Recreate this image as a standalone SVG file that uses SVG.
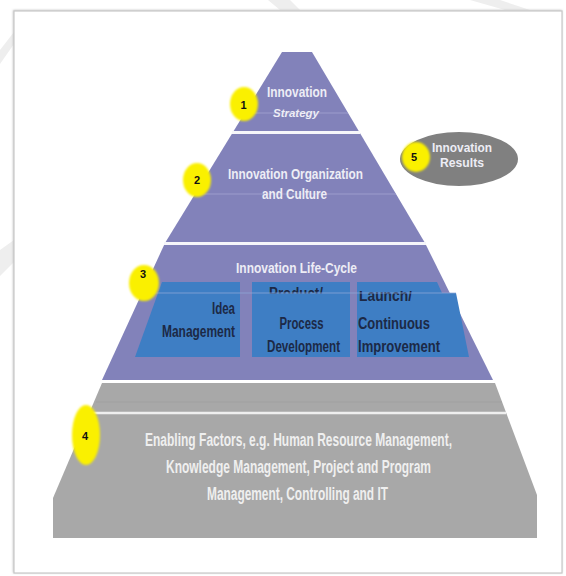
<svg xmlns="http://www.w3.org/2000/svg" width="566" height="576" viewBox="0 0 566 576">
<defs>
<style>
.lbl{font-family:"Liberation Sans",Arial,sans-serif;font-weight:bold;fill:#EDEDF5;text-anchor:middle}
.gl{font-family:"Liberation Sans",Arial,sans-serif;font-weight:bold;fill:#EFEFEF;text-anchor:middle;font-size:18px}
.box{font-family:"Liberation Sans",Arial,sans-serif;font-weight:bold;fill:#1C2946;font-size:16px}
.num{font-family:"Liberation Sans",Arial,sans-serif;font-weight:bold;fill:#111111;text-anchor:middle;font-size:11px}
.badge{fill:#FAF000;filter:url(#soft)}
.sep{stroke:#F6F6FA;stroke-width:3}
.faint{stroke:#9C9CCC;stroke-width:1}
.blue{fill:#3E7EC4}
.wm{fill:#EEEEEE}
</style>
<filter id="soft" x="-20%" y="-20%" width="140%" height="140%"><feGaussianBlur stdDeviation="0.8"/></filter>
<filter id="shadow" x="-5%" y="-5%" width="110%" height="110%"><feGaussianBlur stdDeviation="1.2"/></filter>
<clipPath id="clipProd"><rect x="250" y="280" width="100" height="13.5"/></clipPath>
<clipPath id="clipLaunch"><rect x="355" y="291" width="100" height="15"/></clipPath>
</defs>

<rect x="0" y="0" width="566" height="576" fill="#FFFFFF"/>
<!-- faint watermark bands outside the frame -->
<polygon class="wm" points="0,50 14,32 14,44 0,64"/>
<polygon class="wm" points="268,0 290,0 300,10 280,10"/>
<polygon class="wm" points="470,0 500,0 530,10 505,10"/>
<polygon class="wm" points="0,250 14,240 14,262 0,276"/>

<!-- frame -->
<rect x="13" y="10" width="549" height="563" fill="#C4C4C4" filter="url(#shadow)"/>
<rect x="14" y="11" width="548" height="562" fill="#FFFFFF" stroke="#C8C8C8" stroke-width="1.2"/>

<g id="connectors"/>

<!-- purple pyramid -->
<g id="pyramid-purple">
  <polygon points="282,52 312,52 425,243 493,380 102,380 165,243" fill="#8282BA"/>
  <line class="sep" x1="232" y1="132.5" x2="360" y2="132.5"/>
  <line class="sep" x1="164" y1="243.5" x2="426" y2="243.5"/>
  <line class="faint" x1="245" y1="113" x2="348" y2="113"/>
  <line class="faint" x1="195" y1="194" x2="396" y2="194"/>
</g>

<g id="tier1">
  <text class="lbl" x="297" y="97" font-size="14" textLength="60" lengthAdjust="spacingAndGlyphs">Innovation</text>
  <text class="lbl" x="296" y="117" font-size="10.5" font-style="italic" fill="#DADAEA" textLength="46" lengthAdjust="spacingAndGlyphs">Strategy</text>
</g>

<g id="tier2">
  <text class="lbl" x="295.5" y="179" font-size="14" textLength="135" lengthAdjust="spacingAndGlyphs">Innovation Organization</text>
  <text class="lbl" x="294.5" y="199" font-size="14" textLength="65" lengthAdjust="spacingAndGlyphs">and Culture</text>
</g>

<g id="tier3">
  <text class="lbl" x="296.5" y="273" font-size="14" textLength="121" lengthAdjust="spacingAndGlyphs">Innovation Life-Cycle</text>
  <g id="idea-management">
    <polygon class="blue" points="162,282 240,282 240,357 135,357"/>
    <text class="box" x="235" y="314" text-anchor="end" textLength="23" lengthAdjust="spacingAndGlyphs">Idea</text>
    <text class="box" x="235" y="337" text-anchor="end" textLength="73" lengthAdjust="spacingAndGlyphs">Management</text>
  </g>
  <g id="product-process-development">
    <rect class="blue" x="252" y="282" width="98" height="75"/>
    <text class="box" x="296" y="299" text-anchor="middle" clip-path="url(#clipProd)" textLength="54" lengthAdjust="spacingAndGlyphs">Product/</text>
    <text class="box" x="301.5" y="329" text-anchor="middle" textLength="44" lengthAdjust="spacingAndGlyphs">Process</text>
    <text class="box" x="303.5" y="352" text-anchor="middle" textLength="73" lengthAdjust="spacingAndGlyphs">Development</text>
  </g>
  <g id="launch-improvement">
    <polygon class="blue" points="357,282 437,282 442,293 456,293 469,357 357,357"/>
    <text class="box" x="359" y="301" clip-path="url(#clipLaunch)" textLength="53" lengthAdjust="spacingAndGlyphs">Launch/</text>
    <text class="box" x="358" y="329" textLength="72" lengthAdjust="spacingAndGlyphs">Continuous</text>
    <text class="box" x="358" y="352" textLength="82" lengthAdjust="spacingAndGlyphs">Improvement</text>
  </g>
  <line x1="142" y1="293" x2="456" y2="293" stroke="#8EA8D8" stroke-width="1" opacity="0.75"/>
</g>

<g id="tier4">
  <polygon points="102,383 495,383 537,495 537,538 53,538 53,498" fill="#A8A8A8"/>
  <line x1="96" y1="402" x2="502" y2="402" stroke="#A0A0A0" stroke-width="1"/>
  <line x1="89" y1="413" x2="506" y2="413" stroke="#EFEFEF" stroke-width="2.5"/>
  <text class="gl" x="298.5" y="446" textLength="307" lengthAdjust="spacingAndGlyphs">Enabling Factors, e.g. Human Resource Management,</text>
  <text class="gl" x="298.5" y="473" textLength="265" lengthAdjust="spacingAndGlyphs">Knowledge Management, Project and Program</text>
  <text class="gl" x="297.5" y="500" textLength="181" lengthAdjust="spacingAndGlyphs">Management, Controlling and IT</text>
</g>

<g id="results">
  <ellipse cx="459" cy="159" rx="59" ry="27" fill="#808080"/>
  <text class="lbl" x="462" y="152" font-size="12.5" fill="#E4E4E4" textLength="60" lengthAdjust="spacingAndGlyphs">Innovation</text>
  <text class="lbl" x="462" y="167" font-size="12.5" fill="#E4E4E4" textLength="44" lengthAdjust="spacingAndGlyphs">Results</text>
</g>

<g id="badge1"><ellipse class="badge" cx="244" cy="104" rx="14" ry="17"/><text class="num" x="243.5" y="109">1</text></g>
<g id="badge2"><ellipse class="badge" cx="197" cy="180" rx="14" ry="17"/><text class="num" x="197" y="184">2</text></g>
<g id="badge3"><ellipse class="badge" cx="144" cy="283" rx="15" ry="18"/><text class="num" x="143" y="278">3</text></g>
<g id="badge4"><ellipse class="badge" cx="86" cy="435" rx="14" ry="30"/><text class="num" x="85" y="440" font-size="14">4</text></g>
<g id="badge5"><ellipse class="badge" cx="416" cy="157" rx="14" ry="15"/><text class="num" x="414" y="161" font-size="10">5</text></g>
</svg>
